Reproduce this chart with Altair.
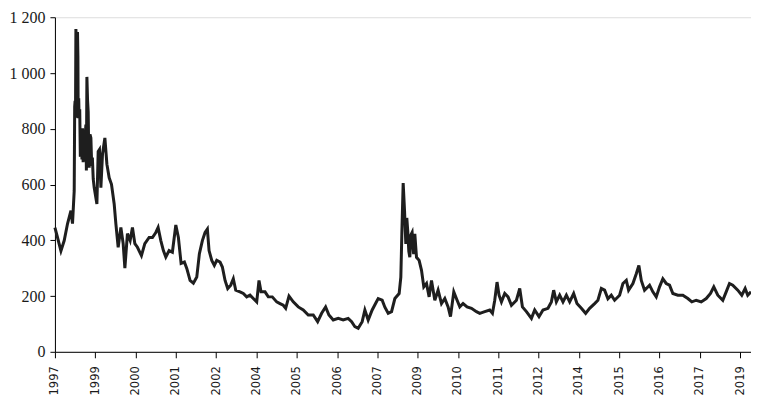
import altair as alt
import pandas as pd

# time position in axis-tick units (tick k = k-th label), value of the series
t = [0.00, 0.064, 0.149, 0.230, 0.312, 0.397, 0.436, 0.478,
     0.490, 0.500, 0.510, 0.520, 0.535, 0.550, 0.560, 0.570, 0.577, 0.590, 0.600, 0.615, 0.630, 0.644,
     0.660, 0.670, 0.684, 0.700, 0.715, 0.726, 0.745, 0.768, 0.780, 0.793, 0.810, 0.825, 0.840, 0.850,
     0.870, 0.892, 0.910, 0.932, 0.950, 0.974,
     1.041, 1.073, 1.105, 1.140, 1.180, 1.239, 1.289,
     1.346, 1.403, 1.470, 1.512, 1.569, 1.636, 1.693, 1.735, 1.799, 1.866, 1.923, 1.983, 2.047, 2.146, 2.230,
     2.337, 2.419, 2.503, 2.560, 2.627, 2.691, 2.751, 2.833, 2.914, 2.999, 3.063, 3.130, 3.212, 3.271, 3.353,
     3.435, 3.519, 3.584, 3.658, 3.725, 3.782, 3.824, 3.891, 3.955, 4.015, 4.097, 4.154, 4.221, 4.287, 4.362,
     4.426, 4.486, 4.592, 4.674, 4.758, 4.840, 4.922, 5.006, 5.063, 5.113, 5.212, 5.294, 5.393, 5.502, 5.584,
     5.665, 5.725, 5.807, 5.913, 6.037, 6.161, 6.285, 6.409, 6.518, 6.617, 6.716, 6.798, 6.905, 7.029, 7.152,
     7.276, 7.361, 7.442, 7.524, 7.623, 7.690, 7.772, 7.871, 7.955, 8.020, 8.119, 8.186, 8.268, 8.352, 8.434,
     8.540, 8.582, 8.607, 8.640, 8.674, 8.706, 8.730, 8.756, 8.780, 8.805, 8.835, 8.862, 8.900, 8.929, 8.950,
     8.971, 9.036, 9.095, 9.152, 9.219,
     9.284, 9.343, 9.425, 9.507, 9.591, 9.673, 9.755, 9.814, 9.896, 9.978, 10.045, 10.126, 10.225, 10.335, 10.458,
     10.540, 10.664, 10.788, 10.855, 10.912, 10.969, 11.019, 11.078, 11.160, 11.242, 11.326, 11.450, 11.532, 11.599, 11.698,
     11.822, 11.903, 12.010, 12.109, 12.233, 12.317, 12.374, 12.441, 12.523, 12.605, 12.689, 12.771, 12.870, 12.952, 13.061,
     13.167, 13.266, 13.390, 13.472, 13.556, 13.638, 13.720, 13.804, 13.886, 14.010, 14.092, 14.176, 14.233, 14.340, 14.424,
     14.488, 14.548, 14.629, 14.753, 14.835, 14.919, 15.001, 15.083, 15.167, 15.249, 15.331, 15.455, 15.579, 15.703, 15.802,
     15.911, 16.035, 16.159, 16.265, 16.347, 16.446, 16.570, 16.654, 16.736, 16.818, 16.942, 17.041, 17.125, 17.189, 17.27]
value = [445, 410, 362, 399, 459, 506, 460, 577,
         880, 900, 840, 1158, 1100, 870, 1147, 1060, 838, 909, 840, 870, 700, 709,
         800, 690, 802, 680, 790, 684, 760, 815, 650, 986, 900, 862, 700, 660,
         780, 767, 680, 684, 620, 589,
         530, 719, 726, 589, 709, 767, 673,
         624, 601, 530, 459, 375, 446, 388, 300, 424, 399, 446, 388, 375, 345, 388,
         410, 410, 428, 446, 399, 363, 340, 363, 357, 455, 410, 317, 322, 299, 256,
         246, 268, 352, 399, 428, 440, 363, 328, 310, 328, 322, 304, 256, 227, 239,
         262, 221, 215, 209, 197, 203, 191, 179, 256, 215, 215, 197, 197, 179, 173,
         167, 156, 200, 179, 161, 150, 132, 132, 108, 138, 161, 132, 114, 120, 114,
         120, 108, 90, 84, 108, 150, 114, 150, 173, 191, 185, 160, 138, 144, 191,
         209, 268, 423, 605, 506, 387, 480, 428, 360, 339, 420, 428, 350, 423, 380,
         339, 328, 292, 233, 245,
         197, 256, 185, 221, 173, 191, 161, 126, 215, 185, 161, 173, 161, 156, 144,
         138, 144, 150, 138, 185, 250, 203, 179, 209, 197, 167, 185, 227, 161, 144,
         120, 150, 126, 150, 156, 179, 221, 179, 203, 179, 203, 179, 209, 173, 156,
         138, 156, 173, 185, 227, 221, 190, 203, 185, 203, 245, 256, 221, 245, 280,
         310, 256, 221, 239, 215, 197, 233, 262, 245, 239, 209, 203, 203, 191, 179,
         185, 179, 191, 209, 233, 203, 185, 215, 245, 239, 221, 203, 227, 203, 215]

tick_labels = ["1997", "1999", "2000", "2001", "2002", "2004", "2005", "2006", "2007",
               "2009", "2010", "2011", "2012", "2014", "2015", "2016", "2017", "2019"]
y_ticks = [0, 200, 400, 600, 800, 1000, 1200]

df = pd.DataFrame({"t": t, "v": value})
tick_pos = list(range(len(tick_labels)))
label_map = "[" + ",".join('"%s"' % s for s in tick_labels) + "]"

chart = alt.Chart(df).mark_line(color="#1e1e1e", strokeWidth=3, strokeJoin="miter").encode(
    x=alt.X("t:Q", scale=alt.Scale(domain=[0, 17.27], nice=False, zero=False),
            axis=alt.Axis(values=tick_pos, labelExpr=label_map + "[datum.value]",
                          labelAngle=270, labelFont="DejaVu Sans", labelFontSize=11.5,
                          labelColor="#1a1a1a", labelPadding=8, tickSize=6,
                          tickColor="#000", domainColor="#000", grid=False, title=None,
                          labelOverlap=False)),
    y=alt.Y("v:Q", scale=alt.Scale(domain=[0, 1200], nice=False),
            axis=alt.Axis(values=y_ticks, labelExpr="replace(format(datum.value, ','), ',', ' ')",
                          labelFont="Liberation Serif", labelFontSize=16, labelColor="#1a1a1a",
                          labelPadding=5, tickSize=5, tickColor="#000", domainColor="#000",
                          grid=False, title=None)),
).properties(
    width=697, height=335,
    autosize=alt.AutoSizeParams(type="none"),
    padding={"left": 47, "top": 9, "right": 0, "bottom": 45},
).configure_view(stroke=None).configure(background="white")

chart.save("out.html", embed_options={"renderer": "svg", "actions": False})
